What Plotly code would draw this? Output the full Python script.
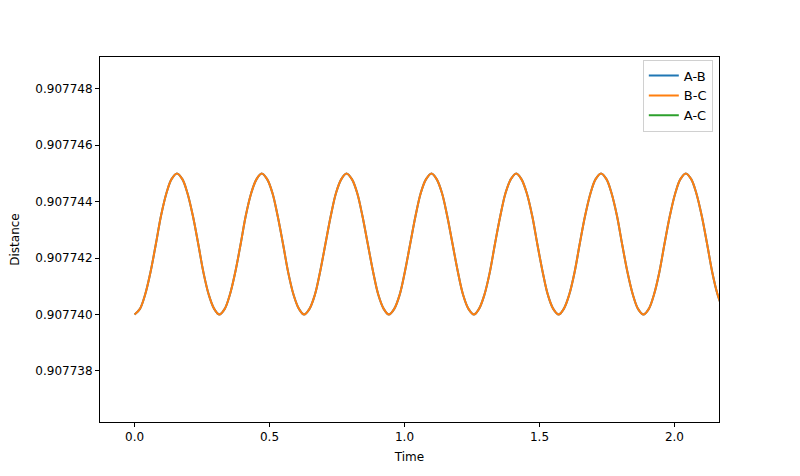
import plotly.graph_objects as go

# Time samples (s), ~1/16 of an oscillation apart
time = [0.000, 0.020, 0.039, 0.059, 0.079, 0.098, 0.118, 0.137,
        0.157, 0.177, 0.196, 0.216, 0.236, 0.255, 0.275, 0.295,
        0.314, 0.334, 0.353, 0.373, 0.393, 0.412, 0.432, 0.452,
        0.471, 0.491, 0.511, 0.530, 0.550, 0.569, 0.589, 0.609,
        0.628, 0.648, 0.668, 0.687, 0.707, 0.727, 0.746, 0.766,
        0.785, 0.805, 0.825, 0.844, 0.864, 0.884, 0.903, 0.923,
        0.942, 0.962, 0.982, 1.001, 1.021, 1.041, 1.060, 1.080,
        1.100, 1.119, 1.139, 1.158, 1.178, 1.198, 1.217, 1.237,
        1.257, 1.276, 1.296, 1.316, 1.335, 1.355, 1.374, 1.394,
        1.414, 1.433, 1.453, 1.473, 1.492, 1.512, 1.531, 1.551,
        1.571, 1.590, 1.610, 1.630, 1.649, 1.669, 1.689, 1.708,
        1.728, 1.748, 1.767, 1.787, 1.806, 1.826, 1.846, 1.865,
        1.885, 1.905, 1.924, 1.944, 1.963, 1.983, 2.003, 2.022,
        2.042, 2.062, 2.081, 2.101, 2.121, 2.140, 2.160, 2.179]

ab = [0.9077400, 0.9077402, 0.9077407, 0.9077415, 0.9077425, 0.9077435, 0.9077443, 0.9077448,
      0.9077450, 0.9077448, 0.9077443, 0.9077435, 0.9077425, 0.9077415, 0.9077407, 0.9077402,
      0.9077400, 0.9077402, 0.9077407, 0.9077415, 0.9077425, 0.9077435, 0.9077443, 0.9077448,
      0.9077450, 0.9077448, 0.9077443, 0.9077435, 0.9077425, 0.9077415, 0.9077407, 0.9077402,
      0.9077400, 0.9077402, 0.9077407, 0.9077415, 0.9077425, 0.9077435, 0.9077443, 0.9077448,
      0.9077450, 0.9077448, 0.9077443, 0.9077435, 0.9077425, 0.9077415, 0.9077407, 0.9077402,
      0.9077400, 0.9077402, 0.9077407, 0.9077415, 0.9077425, 0.9077435, 0.9077443, 0.9077448,
      0.9077450, 0.9077448, 0.9077443, 0.9077435, 0.9077425, 0.9077415, 0.9077407, 0.9077402,
      0.9077400, 0.9077402, 0.9077407, 0.9077415, 0.9077425, 0.9077435, 0.9077443, 0.9077448,
      0.9077450, 0.9077448, 0.9077443, 0.9077435, 0.9077425, 0.9077415, 0.9077407, 0.9077402,
      0.9077400, 0.9077402, 0.9077407, 0.9077415, 0.9077425, 0.9077435, 0.9077443, 0.9077448,
      0.9077450, 0.9077448, 0.9077443, 0.9077435, 0.9077425, 0.9077415, 0.9077407, 0.9077402,
      0.9077400, 0.9077402, 0.9077407, 0.9077415, 0.9077425, 0.9077435, 0.9077443, 0.9077448,
      0.9077450, 0.9077448, 0.9077443, 0.9077435, 0.9077425, 0.9077415, 0.9077407, 0.9077402]
bc = list(ab)
ac = [a + b for a, b in zip(ab, bc)]

series_names = ["A-B", "B-C", "A-C"]
series_colors = ["#1f77b4", "#ff7f0e", "#2ca02c"]
y_tickvals = [0.907738, 0.907740, 0.907742, 0.907744, 0.907746, 0.907748]
y_ticktext = ["0.907738", "0.907740", "0.907742", "0.907744", "0.907746", "0.907748"]
x_tickvals = [0.0, 0.5, 1.0, 1.5, 2.0]
x_ticktext = ["0.0", "0.5", "1.0", "1.5", "2.0"]

fig = go.Figure()
for name, ys, col in zip(series_names, [ab, bc, ac], series_colors):
    fig.add_trace(go.Scatter(x=time, y=ys, mode="lines", name=name,
                             line=dict(color=col, width=2, shape="spline", smoothing=1.0)))

font = dict(family="DejaVu Sans", size=12, color="#000000")
fig.update_layout(
    width=800, height=476,
    margin=dict(l=92, r=89, t=49, b=62),
    paper_bgcolor="white", plot_bgcolor="white",
    font=font,
    showlegend=True,
    legend=dict(x=0.990, y=0.993, xanchor="right", yanchor="top",
                bgcolor="rgba(255,255,255,0.8)", bordercolor="#d0d0d0", borderwidth=1,
                font=dict(family="DejaVu Sans", size=13, color="#000000"),
                tracegroupgap=0, itemwidth=30),
)
fig.update_xaxes(range=[-0.128, 2.165], tickvals=x_tickvals, ticktext=x_ticktext,
                 showgrid=False, zeroline=False, showline=True, linecolor="#000000",
                 linewidth=1, mirror=True, ticks="outside", ticklen=4, tickcolor="#000000",
                 automargin=False,
                 title=dict(text="Time", standoff=9, font=font))
fig.update_yaxes(range=[0.90773619, 0.90774913], tickvals=y_tickvals, ticktext=y_ticktext,
                 showgrid=False, zeroline=False, showline=True, linecolor="#000000",
                 linewidth=1, mirror=True, ticks="outside", ticklen=4, tickcolor="#000000",
                 automargin=False,
                 title=dict(text="Distance", standoff=16, font=font))

fig.write_html("out.html")
